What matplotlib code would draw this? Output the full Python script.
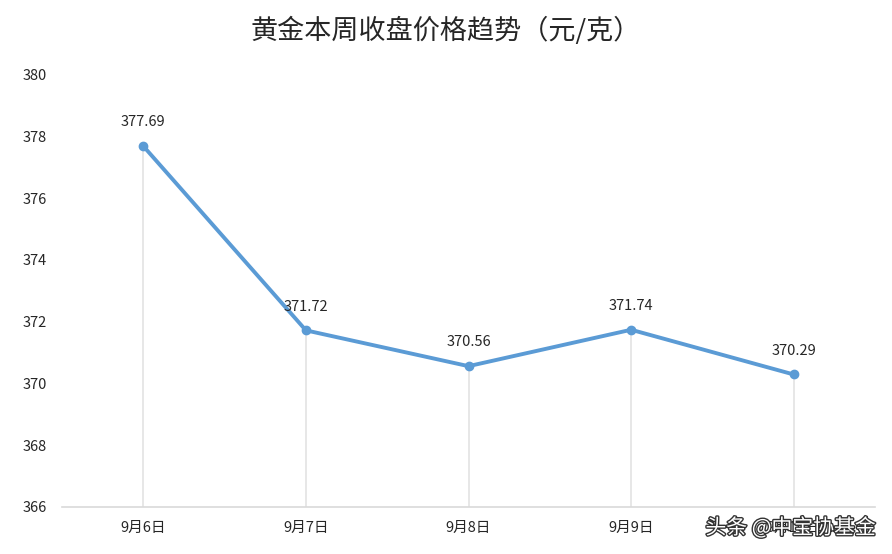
import matplotlib
matplotlib.use("Agg")
import matplotlib.pyplot as plt
import matplotlib.patheffects as pe

plt.rcParams['font.family'] = ['Noto Sans CJK SC', 'DejaVu Sans']

# data
dates = ["9月6日", "9月7日", "9月8日", "9月9日", "9月10日"]
prices = [377.69, 371.72, 370.56, 371.74, 370.29]
yticks = [366, 368, 370, 372, 374, 376, 378, 380]

line_color = "#5B9BD5"

fig = plt.figure(figsize=(8.92, 5.54), dpi=100)
ax = fig.add_axes([0.0695, 0.085, 0.9115, 0.78])

x = list(range(len(dates)))
ax.vlines(x, 366, prices, color="#e3e3e3", linewidth=1.2, zorder=1)
ax.plot(x, prices, color=line_color, linewidth=2.8, marker="o",
        markersize=6, zorder=3)

for xi, p in zip(x, prices):
    ax.annotate(f"{p:.2f}", (xi, p), textcoords="offset points",
                xytext=(0, 12), ha="center", va="bottom", fontsize=10.5,
                color="#262626")

ax.set_xlim(-0.5, len(dates) - 0.5)
ax.set_ylim(366, 380)
ax.set_yticks(yticks)
ax.set_xticks(x)
ax.set_xticklabels(dates)
ax.tick_params(axis="both", length=0, labelsize=10.5, colors="#262626")
ax.tick_params(axis="x", pad=10)
ax.tick_params(axis="y", pad=28)
for lab in ax.get_yticklabels():
    lab.set_horizontalalignment("left")

for side in ["top", "right", "left"]:
    ax.spines[side].set_visible(False)
ax.spines["bottom"].set_color("#d9d9d9")
ax.spines["bottom"].set_linewidth(1.2)

fig.text(0.5, 0.945, "黄金本周收盘价格趋势（元/克）", ha="center", va="center",
         fontsize=19.5, color="#262626")

# watermark
fig.text(0.982, 0.047, "头条 @中宝协基金", ha="right", va="center",
         fontsize=15, color="white",
         path_effects=[pe.withStroke(linewidth=2, foreground="#333333")])

fig.savefig("out.png", dpi=100)
